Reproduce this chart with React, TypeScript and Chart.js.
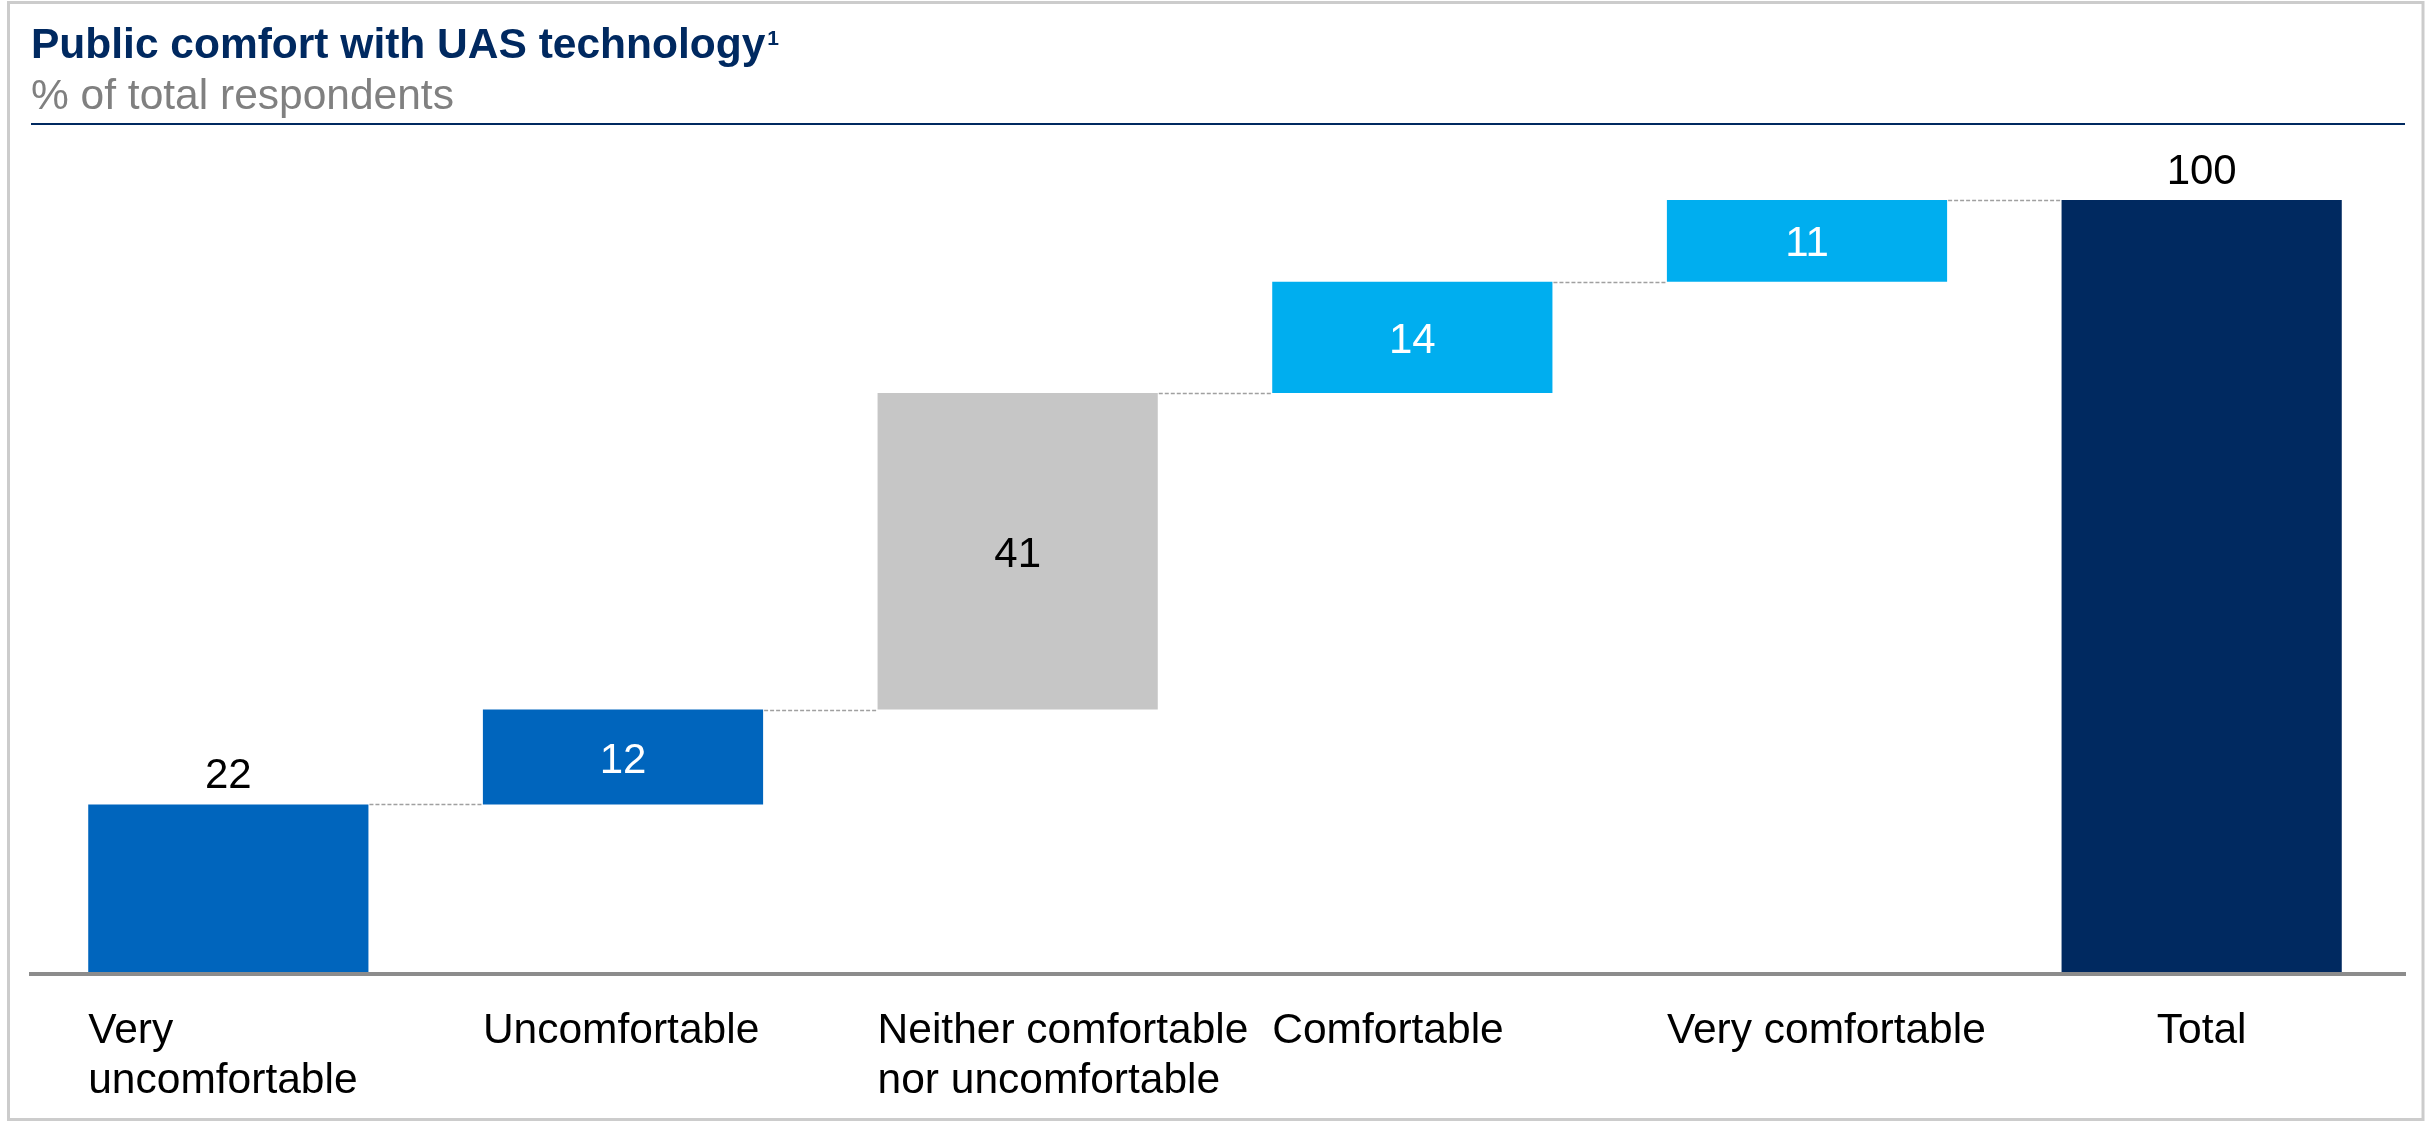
import React, { useEffect, useRef } from "react";
import { Chart, registerables } from "chart.js";

Chart.register(...registerables);

// ---------- data ----------
const TITLE = "Public comfort with UAS technology";
const TITLE_NOTE = "1";
const SUBTITLE = "% of total respondents";

const categories: string[][] = [
  ["Very", "uncomfortable"],
  ["Uncomfortable"],
  ["Neither comfortable", "nor uncomfortable"],
  ["Comfortable"],
  ["Very comfortable"],
  ["Total"],
];
// step heights (labels show rounded values)
const steps: number[] = [21.7, 12.3, 41.0, 14.4, 10.6];
const totalValue = 100;

const barColors: string[] = ["#0065BD", "#0065BD", "#C6C6C6", "#00AEEF", "#00AEEF", "#002960"];
const valueLabelColors: string[] = ["#000000", "#FFFFFF", "#000000", "#FFFFFF", "#FFFFFF", "#000000"];

const FONT = "'Liberation Sans', Arial, Helvetica, sans-serif";
const W = 2429;
const H = 1121;

function buildRanges(): [number, number][] {
  const out: [number, number][] = [];
  let acc = 0;
  for (const v of steps) {
    out.push([acc, acc + v]);
    acc += v;
  }
  out.push([0, totalValue]);
  return out;
}

const ranges = buildRanges();
const displayValues: number[] = [...steps, totalValue].map((v) => Math.round(v));

const decorPlugin = {
  id: "decor",
  beforeDraw(chart: any) {
    const ctx = chart.ctx as CanvasRenderingContext2D;
    ctx.save();
    ctx.fillStyle = "#FFFFFF";
    ctx.fillRect(0, 0, W, H);
    // frame
    ctx.strokeStyle = "#CCCCCC";
    ctx.lineWidth = 3;
    ctx.strokeRect(8.5, 2.5, 2414.5, 1117);
    // title
    ctx.fillStyle = "#002960";
    ctx.textAlign = "left";
    ctx.textBaseline = "alphabetic";
    ctx.font = `bold 42.5px ${FONT}`;
    ctx.fillText(TITLE, 31, 58);
    const tw = ctx.measureText(TITLE).width;
    ctx.font = `bold 21px ${FONT}`;
    ctx.fillText(TITLE_NOTE, 31 + tw + 2, 45);
    // subtitle
    ctx.fillStyle = "#808080";
    ctx.font = `42.5px ${FONT}`;
    ctx.fillText(SUBTITLE, 31, 109);
    // navy rule
    ctx.strokeStyle = "#002960";
    ctx.lineWidth = 2;
    ctx.beginPath();
    ctx.moveTo(31, 124);
    ctx.lineTo(2405, 124);
    ctx.stroke();
    ctx.restore();
  },
  afterDatasetsDraw(chart: any) {
    const ctx = chart.ctx as CanvasRenderingContext2D;
    const meta = chart.getDatasetMeta(0);
    const yScale = chart.scales.y;
    const area = chart.chartArea;
    ctx.save();

    // connectors
    ctx.strokeStyle = "#A0A0A0";
    ctx.lineWidth = 1.5;
    ctx.setLineDash([4, 2]);
    for (let i = 0; i < ranges.length - 1; i++) {
      const a = meta.data[i];
      const b = meta.data[i + 1];
      const y = Math.round(yScale.getPixelForValue(ranges[i][1])) + 0.5;
      ctx.beginPath();
      ctx.moveTo(a.x + a.width / 2 + 1, y);
      ctx.lineTo(b.x - b.width / 2 - 1, y);
      ctx.stroke();
    }
    ctx.setLineDash([]);

    // axis line
    ctx.strokeStyle = "#8C8C8C";
    ctx.lineWidth = 4;
    ctx.beginPath();
    ctx.moveTo(29, area.bottom + 2);
    ctx.lineTo(2406, area.bottom + 2);
    ctx.stroke();

    // value labels
    ctx.font = `42px ${FONT}`;
    ctx.textAlign = "center";
    for (let i = 0; i < meta.data.length; i++) {
      const el = meta.data[i];
      const [lo, hi] = ranges[i];
      const top = yScale.getPixelForValue(hi);
      const bot = yScale.getPixelForValue(lo);
      const txt = String(displayValues[i]);
      if (lo === 0) {
        ctx.fillStyle = "#000000";
        ctx.textBaseline = "alphabetic";
        ctx.fillText(txt, el.x, top - 16);
      } else {
        ctx.fillStyle = valueLabelColors[i];
        ctx.textBaseline = "middle";
        ctx.fillText(txt, el.x, (top + bot) / 2 + 4);
      }
    }

    // category labels
    ctx.fillStyle = "#000000";
    ctx.textBaseline = "alphabetic";
    ctx.font = `42.5px ${FONT}`;
    for (let i = 0; i < meta.data.length; i++) {
      const el = meta.data[i];
      const lines = categories[i];
      const isTotal = i === meta.data.length - 1;
      ctx.textAlign = isTotal ? "center" : "left";
      const x = isTotal ? el.x : el.x - el.width / 2;
      lines.forEach((ln, k) => {
        ctx.fillText(ln, x, 1043 + k * 50);
      });
    }
    ctx.restore();
  },
};

export default function App() {
  const ref = useRef<HTMLCanvasElement | null>(null);

  useEffect(() => {
    document.body.style.margin = "0";
    const canvas = ref.current;
    if (!canvas) return;
    const chart = new Chart(canvas, {
      type: "bar",
      data: {
        labels: categories.map((c) => c.join(" ")),
        datasets: [
          {
            data: ranges as any,
            backgroundColor: barColors,
            borderWidth: 0,
            barPercentage: 0.71,
            categoryPercentage: 1,
          },
        ],
      },
      options: {
        animation: false,
        responsive: false,
        devicePixelRatio: 1,
        layout: { padding: { left: 31, right: 30, top: 200, bottom: 149 } },
        plugins: {
          legend: { display: false },
          tooltip: { enabled: false },
          title: { display: false },
        },
        scales: {
          x: { display: false, grid: { display: false } },
          y: { display: false, min: 0, max: 100, grid: { display: false } },
        },
      },
      plugins: [decorPlugin],
    });
    return () => chart.destroy();
  }, []);

  return (
    <div style={{ width: W, height: H }}>
      <canvas ref={ref} width={W} height={H} style={{ display: "block", width: W, height: H }} />
    </div>
  );
}
